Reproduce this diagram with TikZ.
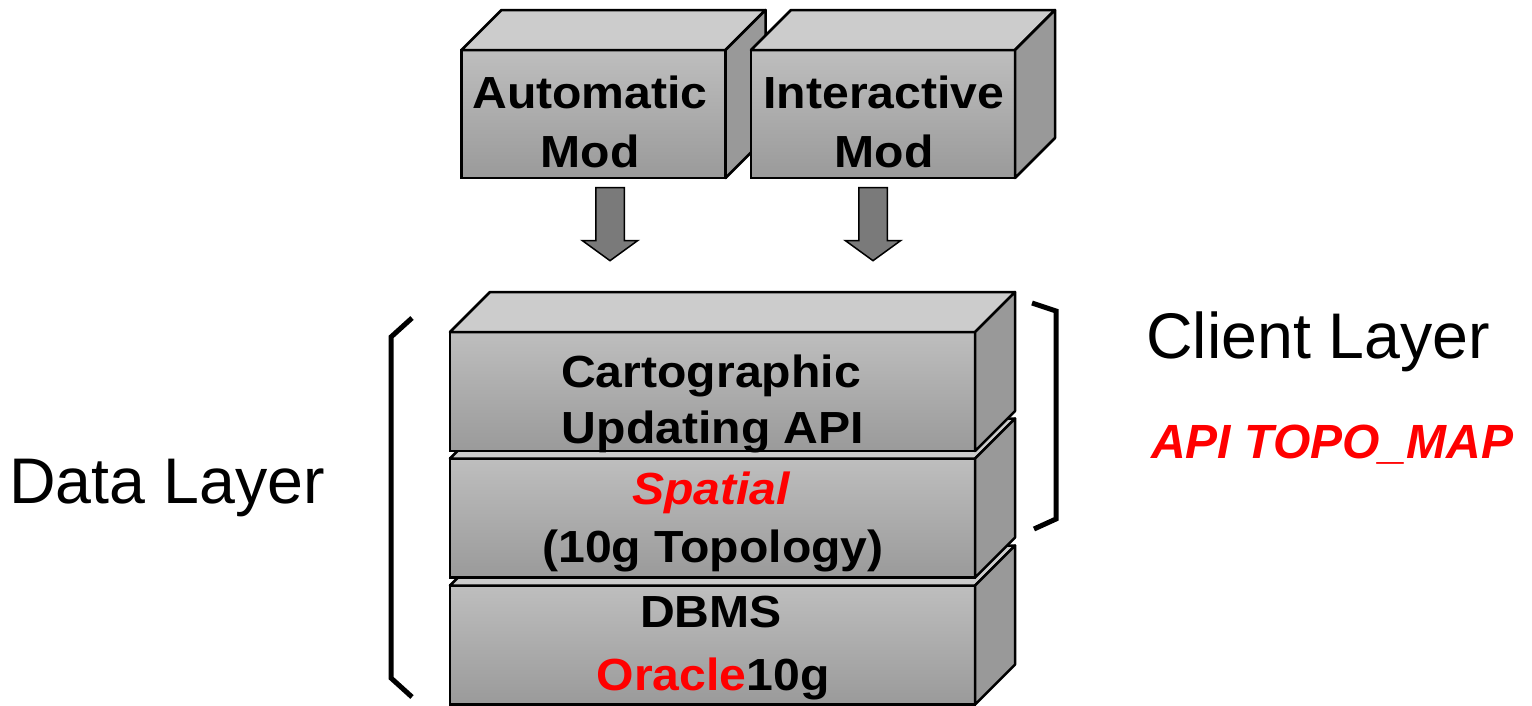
\documentclass[tikz,border=0pt]{standalone}
\usepackage{fontspec}
\setmainfont{Liberation Sans}
\newfontfamily\boxfont[FakeStretch=1.07]{Liberation Sans}
\usetikzlibrary{shapes.arrows,calc}
\definecolor{topgray}{HTML}{CCCCCC}
\definecolor{sidegray}{HTML}{999999}
\definecolor{facetop}{HTML}{BEBEBE}
\definecolor{facebot}{HTML}{9A9A9A}
\definecolor{arrowgray}{HTML}{7A7A7A}
\tikzset{
	face/.style={draw=black, line width=2.5pt, top color=facetop, bottom color=facebot, inner sep=0pt, outer sep=0pt},
	boxtext/.style={anchor=base, inner sep=0pt, font=\boxfont\fontsize{45}{50}\selectfont\bfseries},
	topface/.style={draw=black, line width=2.5pt, fill=topgray, line join=round},
	sideface/.style={draw=black, line width=2.5pt, fill=sidegray, line join=round},
	downarrow/.style={single arrow, draw=black, line width=1.5pt, fill=arrowgray, minimum height=73pt,
		minimum width=54pt, inner xsep=0pt, inner ysep=13.5pt, single arrow head extend=13.5pt,
		single arrow tip angle=108, rotate=-90},
	bracket/.style={line width=5pt},
	layerlabel/.style={anchor=base west, inner sep=0pt, font=\fontsize{64.5}{70}\selectfont}
}
\begin{document}
\begin{tikzpicture}[x=1pt,y=-1pt]
			\def\dx{40}
			\def\dy{40}
			\useasboundingbox (0,0) rectangle (1532,705);
			% modification tools on top
			\foreach \name/\xpos/\tx/\la/\lb in {auto/593.5/590/Automatic/Mod, inter/883/884/Interactive/Mod} {
				\node[face, minimum width=264pt, minimum height=128pt] (\name) at (\xpos,114) {};
				\draw[topface] (\name.north west) -- ++(\dx,-\dy) -- ($(\name.north east)+(\dx,-\dy)$) -- (\name.north east) -- cycle;
				\draw[sideface] (\name.north east) -- ++(\dx,-\dy) -- ($(\name.south east)+(\dx,-\dy)$) -- (\name.south east) -- cycle;
				\node[boxtext] (\name a) at (\tx,108) {\la};
				\node[boxtext] (\name b) at (\tx,167) {\lb};
			}
			% block arrows down to the stack
			\node[downarrow] (arrauto) at (610,219) {};
			\node[downarrow] (arrinter) at (873,219) {};
			% layer stack, bottom box first
			\foreach \name/\ypos/\la/\ba/\lb/\bb in {dbms/645/DBMS/627/{\textcolor{red}{Oracle}10g}/690,
				spat/518/{\textcolor{red}{\itshape Spatial}}/504/{(10g Topology)}/562,
				carto/391.5/Cartographic/387/{Updating API}/443} {
				\node[face, minimum width=525pt, minimum height=119pt] (\name) at (712.5,\ypos) {};
				\draw[topface] (\name.north west) -- ++(\dx,-\dy) -- ($(\name.north east)+(\dx,-\dy)$) -- (\name.north east) -- cycle;
				\draw[sideface] (\name.north east) -- ++(\dx,-\dy) -- ($(\name.south east)+(\dx,-\dy)$) -- (\name.south east) -- cycle;
				\node[boxtext] (\name a) at (711,\ba) {\la};
				\node[boxtext] (\name b) at (713,\bb) {\lb};
			}
			% brackets
			\draw[bracket] (412,318) -- (391,337) -- (391,678) -- (412,697);
			\draw[bracket] (1032,303) -- (1056,311) -- (1056,519) -- (1034,529);
			% layer labels
			\node[layerlabel] (client) at (1146,358) {Client Layer};
			\node[anchor=base west, inner sep=0pt, text=red, font=\fontsize{48}{56}\selectfont\bfseries\itshape] (topo) at (1151,458) {API TOPO\_MAP};
			\node[layerlabel] (data) at (9,503) {Data Layer};
\end{tikzpicture}
\end{document}
